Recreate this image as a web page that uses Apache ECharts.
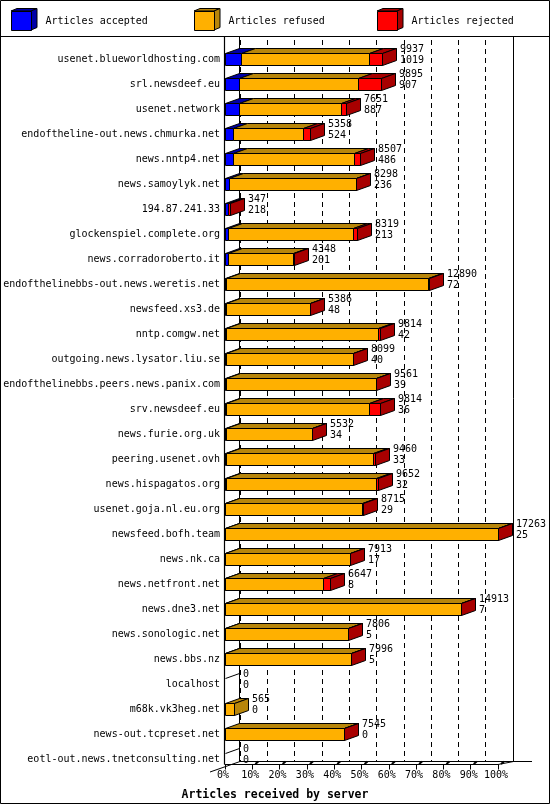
<!DOCTYPE html>
<html><head><meta charset="utf-8">
<script src="https://cdn.jsdelivr.net/npm/echarts@6/dist/echarts.min.js"></script>
<style>html,body{margin:0;padding:0;background:#fff}#c{width:550px;height:805px}</style>
</head><body><div id="c"></div>
<script>
const categories = [
  'usenet.blueworldhosting.com','srl.newsdeef.eu','usenet.network','endoftheline-out.news.chmurka.net',
  'news.nntp4.net','news.samoylyk.net','194.87.241.33','glockenspiel.complete.org',
  'news.corradoroberto.it','endofthelinebbs-out.news.weretis.net','newsfeed.xs3.de','nntp.comgw.net',
  'outgoing.news.lysator.liu.se','endofthelinebbs.peers.news.panix.com','srv.newsdeef.eu','news.furie.org.uk',
  'peering.usenet.ovh','news.hispagatos.org','usenet.goja.nl.eu.org','newsfeed.bofh.team',
  'news.nk.ca','news.netfront.net','news.dne3.net','news.sonologic.net',
  'news.bbs.nz','localhost','m68k.vk3heg.net','news-out.tcpreset.net','eotl-out.news.tnetconsulting.net'
];
const totals   = [9937,9895,7651,5358,8507,8298,347,8319,4348,12890,5386,9814,8099,9561,9814,5532,9460,9652,8715,17263,7913,6647,14913,7806,7996,0,565,7545,0];
const accepted = [1019,907,887,524,486,236,218,213,201,72,48,42,40,39,36,34,33,32,29,25,17,8,7,5,5,0,0,0,0];
const refused  = [8068,7508,6444,4434,7641,8032,0,7906,4122,12738,5318,9612,8039,9492,9048,5483,9347,9510,8661,17218,7881,6159,14886,7791,7981,0,565,7530,0];
const rejected = [850,1480,320,400,380,30,129,200,25,80,20,160,20,30,730,15,80,110,25,20,15,480,20,10,10,0,0,15,0];
const tickLabels = ['0%','10%','20%','30%','40%','50%','60%','70%','80%','90%','100%'];
const seriesNames = ['Articles accepted','Articles refused','Articles rejected'];

const FONT = "'DejaVu Sans Mono', monospace";
const maxTotal = Math.max(...totals);
const DX = 14, DY = 5, H = 12;
const FRONT = ['#0000ff', '#ffb000', '#ff0000'];
const DARK  = ['#0000a8', '#b8860b', '#a80000'];
const segs = [accepted, refused, rejected];

function crisp(v) { return Math.round(v) + 0.5; }

function makeRender(s) {
  return function (params, api) {
    const i = params.dataIndex;
    const vals = [accepted[i], refused[i], rejected[i]];
    const bounds = [0, vals[0], vals[0] + vals[1], vals[0] + vals[1] + vals[2]];
    const p0 = api.coord([bounds[s], i]);
    const p1 = api.coord([bounds[s + 1], i]);
    const cy = p0[1];
    const yT = crisp(cy - H / 2), yB = yT + H;
    const x0 = crisp(p0[0]), x1 = crisp(p1[0]);
    const children = [];
    const ls = { stroke: '#000', lineWidth: 1 };
    let last = -1;
    for (let k = 0; k < 3; k++) if (vals[k] > 0) last = k;
    if (vals[s] > 0) {
      children.push({ type: 'polygon', shape: { points: [[x0, yT], [x1, yT], [x1 + DX, yT - DY], [x0 + DX, yT - DY]] }, style: Object.assign({ fill: DARK[s] }, ls) });
      children.push({ type: 'rect', shape: { x: x0, y: yT, width: x1 - x0, height: H }, style: Object.assign({ fill: FRONT[s] }, ls) });
      if (s === last) {
        children.push({ type: 'polygon', shape: { points: [[x1, yT], [x1 + DX, yT - DY], [x1 + DX, yB - DY], [x1, yB]] }, style: Object.assign({ fill: DARK[s] }, ls) });
      }
    }
    if (s === 0 && last === -1) {
      children.push({ type: 'line', shape: { x1: x0, y1: yT, x2: x0 + DX, y2: yT - DY }, style: ls });
    }
    if (s === 2) {
      const pe = api.coord([totals[i], i]);
      children.push({
        type: 'text', x: Math.round(pe[0]) + DX + 4, y: cy - 4.5,
        style: { text: totals[i] + '\n' + accepted[i], font: '10px ' + FONT, fill: '#000',
                 align: 'left', verticalAlign: 'middle', textAlign: 'left', textVerticalAlign: 'middle', lineHeight: 10.5 }
      });
    }
    return { type: 'group', children };
  };
}

const graphics = [
  { type: 'rect', shape: { x: 0.5, y: 0.5, width: 549, height: 803 }, style: { fill: 'none', stroke: '#000', lineWidth: 1 }, z: 100 },
  { type: 'line', shape: { x1: 0, y1: 36.5, x2: 550, y2: 36.5 }, style: { stroke: '#000', lineWidth: 1 } },
  { type: 'line', shape: { x1: 224.5, y1: 36, x2: 224.5, y2: 764.5 }, style: { stroke: '#000', lineWidth: 1.2 } },
  { type: 'line', shape: { x1: 239.5, y1: 36, x2: 239.5, y2: 761.5 }, style: { stroke: '#000', lineWidth: 1 } },
  { type: 'line', shape: { x1: 513.5, y1: 36, x2: 513.5, y2: 761.5 }, style: { stroke: '#000', lineWidth: 1 } },
  { type: 'line', shape: { x1: 239.5, y1: 761.5, x2: 532, y2: 761.5 }, style: { stroke: '#000', lineWidth: 1 } },
  { type: 'line', shape: { x1: 210, y1: 772, x2: 240, y2: 761.5 }, style: { stroke: '#000', lineWidth: 1 } },
  { type: 'line', shape: { x1: 498, y1: 764.5, x2: 513.5, y2: 761.5 }, style: { stroke: '#000', lineWidth: 1 } }
];
// small back marks of floor ticks
for (let k = 1; k <= 10; k++) {
  const x = 225 + k * 27.3;
  graphics.push({ type: 'line', shape: { x1: x + 3, y1: 764, x2: x + 6, y2: 761.5 }, style: { stroke: '#000', lineWidth: 2 } });
}
// legend cube faces
const legendX = [11, 194, 377];
legendX.forEach((lx, s) => {
  graphics.push({ type: 'polygon', shape: { points: [[lx, 11], [lx + 6, 8.5], [lx + 26, 8.5], [lx + 20, 11]] }, style: { fill: DARK[s], stroke: '#000', lineWidth: 1 } });
  graphics.push({ type: 'polygon', shape: { points: [[lx + 20, 11], [lx + 26, 8.5], [lx + 26, 27.5], [lx + 20, 30]] }, style: { fill: DARK[s], stroke: '#000', lineWidth: 1 } });
});

const chart = echarts.init(document.getElementById('c'), null, { renderer: 'canvas' });
chart.setOption({
  animation: false,
  backgroundColor: '#fff',
  textStyle: { fontFamily: FONT },
  title: {
    text: 'Articles received by server', left: 'center', top: 784,
    textStyle: { fontFamily: FONT, fontSize: 11.5, fontWeight: 'bold', color: '#000' }
  },
  legend: legendX.map((lx, s) => ({
    data: [{ name: seriesNames[s], icon: 'rect', itemStyle: { color: FRONT[s], borderColor: '#000', borderWidth: 1 } }],
    left: lx, top: 11, itemWidth: 20, itemHeight: 19, selectedMode: false, padding: 0,
    textStyle: { fontFamily: FONT, fontSize: 10, color: '#000', padding: [0, 0, 0, 9] }
  })),
  grid: [
    { left: 225, right: 52, top: 46.8, bottom: 33.2 },
    { left: 240, right: 37, top: 40, bottom: 43.5 }
  ],
  xAxis: [
    {
      type: 'value', gridIndex: 0, min: 0, max: maxTotal, interval: maxTotal / 10, offset: -7.3,
      axisLine: { show: true, lineStyle: { color: '#000', width: 1 } },
      axisTick: { show: true, length: 5, lineStyle: { color: '#000' } },
      splitLine: { show: false },
      axisLabel: {
        margin: 6, fontFamily: FONT, fontSize: 10, color: '#000', padding: [0, 4, 0, 0],
        formatter: (v) => tickLabels[Math.round(v / maxTotal * 10)]
      }
    },
    {
      type: 'value', gridIndex: 1, min: 0, max: maxTotal, interval: maxTotal / 10,
      axisLine: { show: false }, axisTick: { show: false }, axisLabel: { show: false },
      splitLine: { show: true, lineStyle: { color: '#000', width: 1, type: [5, 4] } }
    }
  ],
  yAxis: [
    {
      type: 'category', gridIndex: 0, data: categories, inverse: true,
      axisLine: { show: false }, axisTick: { show: false }, splitLine: { show: false },
      axisLabel: { margin: 5, fontFamily: FONT, fontSize: 10, color: '#000' }
    },
    { type: 'value', gridIndex: 1, show: false, splitLine: { show: false } }
  ],
  graphic: { elements: graphics },
  series: seriesNames.map((name, s) => ({
    name, type: 'custom', xAxisIndex: 0, yAxisIndex: 0, clip: false,
    itemStyle: { color: FRONT[s] },
    encode: { x: 0, y: 1 },
    data: categories.map((c, i) => [segs[s][i], i]),
    renderItem: makeRender(s)
  }))
});
</script>
</body></html>
